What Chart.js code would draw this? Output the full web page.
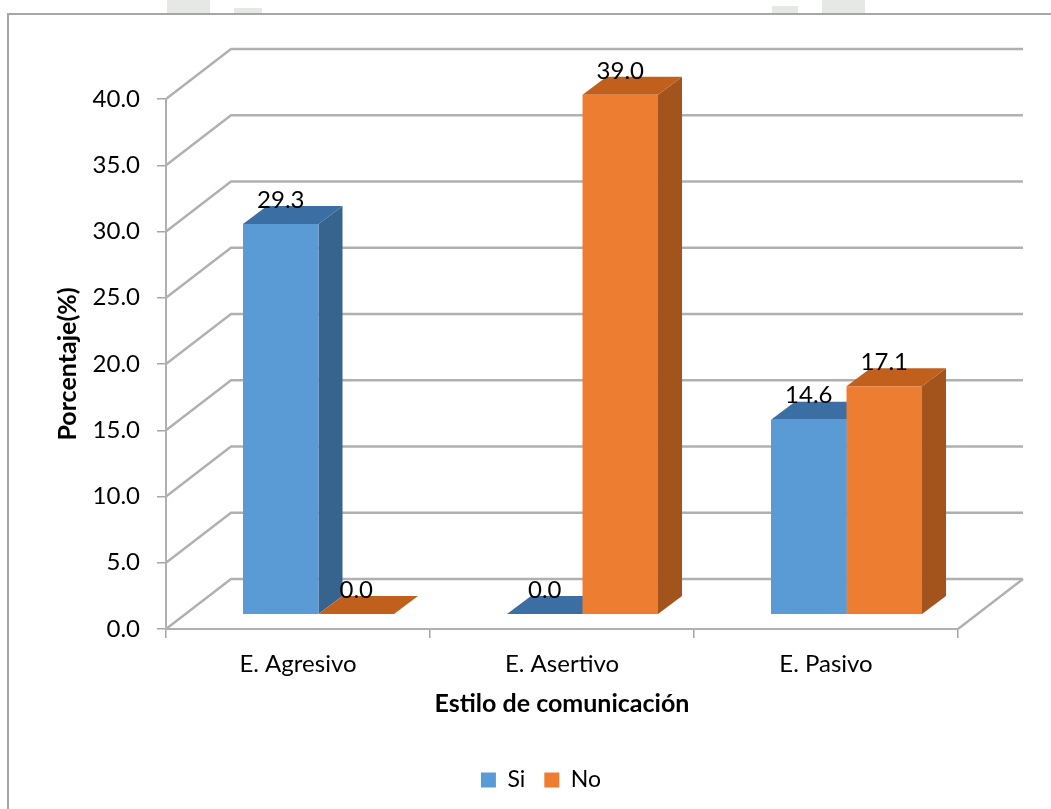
<!DOCTYPE html>
<html lang="es">
<head>
<meta charset="utf-8">
<title>Estilo de comunicación</title>
<script src="https://cdn.jsdelivr.net/npm/chart.js@4"></script>
<style>
    html, body { margin: 0; padding: 0; background: #fff; }
    canvas { display: block; }
</style>
</head>
<body>
<canvas id="grafico" width="1051" height="809"></canvas>
<script>
const categorias = ["E. Agresivo", "E. Asertivo", "E. Pasivo"];
const valoresSi = [29.3, 0.0, 14.6];
const valoresNo = [0.0, 39.0, 17.1];
const ticksPorcentaje = [0, 5, 10, 15, 20, 25, 30, 35, 40];

const fuente = "Lato, Carlito, Calibri, sans-serif";
const gris = "#b0b0b0";
const grisEje = "#a6a6a6";

// profundidad de la pared del fondo y de las barras
const paredDx = 65, paredDy = -50;
const barraDx = 24, barraDy = -18;

const caras = [
    { frente: "#5b9bd5", lado: "#37648f", arriba: "#3b6fa3" },
    { frente: "#ed7d31", lado: "#a3541c", arriba: "#c1601c" }
];

function poligono(ctx, puntos, color) {
    ctx.fillStyle = color;
    ctx.beginPath();
    puntos.forEach((p, i) => i ? ctx.lineTo(p[0], p[1]) : ctx.moveTo(p[0], p[1]));
    ctx.closePath();
    ctx.fill();
}

// marco exterior y restos grises del borde superior
const marco = {
    id: "marco",
    beforeDraw(chart) {
        const ctx = chart.ctx;
        ctx.save();
        ctx.fillStyle = "#e6e8e6";
        ctx.fillRect(167, 0, 43, 13);
        ctx.fillRect(234, 8, 28, 5);
        ctx.fillRect(772, 6, 26, 7);
        ctx.fillRect(822, 0, 43, 13);
        ctx.strokeStyle = grisEje;
        ctx.lineWidth = 2;
        ctx.beginPath();
        ctx.moveTo(8, 809);
        ctx.lineTo(8, 14);
        ctx.lineTo(1051, 14);
        ctx.stroke();
        ctx.restore();
    }
};

// paredes en perspectiva y caras laterales de cada barra
const volumen = {
    id: "volumen",
    beforeDatasetsDraw(chart) {
        const ctx = chart.ctx;
        const { left, right, bottom } = chart.chartArea;
        const y = chart.scales.y;

        ctx.save();
        ctx.strokeStyle = gris;
        ctx.lineWidth = 2.4;
        ctx.lineJoin = "round";
        ticksPorcentaje.forEach(v => {
            const py = y.getPixelForValue(v);
            ctx.beginPath();
            ctx.moveTo(left, py);
            ctx.lineTo(left + paredDx, py + paredDy);
            ctx.lineTo(right + paredDx, py + paredDy);
            ctx.stroke();
        });
        ctx.beginPath();
        ctx.moveTo(right, bottom);
        ctx.lineTo(right + paredDx, bottom + paredDy);
        ctx.stroke();

        categorias.forEach((_, i) => {
            chart.data.datasets.forEach((ds, d) => {
                const barra = chart.getDatasetMeta(d).data[i];
                const izq = barra.x - barra.width / 2;
                const der = barra.x + barra.width / 2;
                if (barra.base - barra.y > 0) {
                    poligono(ctx, [
                        [der, barra.y], [der + barraDx, barra.y + barraDy],
                        [der + barraDx, barra.base + barraDy], [der, barra.base]
                    ], caras[d].lado);
                }
                poligono(ctx, [
                    [izq, barra.y], [izq + barraDx, barra.y + barraDy],
                    [der + barraDx, barra.y + barraDy], [der, barra.y]
                ], caras[d].arriba);
            });
        });
        ctx.restore();
    },
    afterDatasetsDraw(chart) {
        const ctx = chart.ctx;
        ctx.save();
        ctx.fillStyle = "#000";
        ctx.font = "24px " + fuente;
        ctx.textAlign = "center";
        ctx.textBaseline = "middle";
        chart.data.datasets.forEach((ds, d) => {
            chart.getDatasetMeta(d).data.forEach((barra, i) => {
                ctx.fillText(ds.data[i].y.toFixed(1), barra.x, barra.y - 24);
            });
        });
        ctx.restore();
    },
    afterLayout(chart) {
        // la leyenda queda centrada bajo el gráfico completo, no bajo el área de barras
        chart.legend.left += 62;
        chart.legend.right += 62;
    }
};

const puntos = valores => valores.map((v, i) => ({ x: i, y: v }));

new Chart(document.getElementById("grafico"), {
    type: "bar",
    data: {
        labels: categorias,
        datasets: [
            {
                label: "Si",
                data: puntos(valoresSi),
                backgroundColor: caras[0].frente,
                xAxisID: "xBarras",
                yAxisID: "yBarras",
                clip: false
            },
            {
                label: "No",
                data: puntos(valoresNo),
                backgroundColor: caras[1].frente,
                xAxisID: "xBarras",
                yAxisID: "yBarras",
                clip: false
            }
        ]
    },
    plugins: [marco, volumen],
    options: {
        responsive: false,
        animation: false,
        barPercentage: 1,
        categoryPercentage: 0.572,
        layout: { padding: { top: 99, right: 93, bottom: 7.5, left: 0 } },
        plugins: {
            tooltip: { enabled: false },
            legend: {
                position: "bottom",
                labels: {
                    boxWidth: 15,
                    boxHeight: 15,
                    padding: 19,
                    color: "#000",
                    font: { family: fuente, size: 23 }
                }
            }
        },
        scales: {
            x: {
                type: "category",
                labels: categorias,
                offset: true,
                grid: {
                    offset: true,
                    drawOnChartArea: false,
                    color: grisEje,
                    lineWidth: 1.5,
                    tickLength: 9
                },
                border: { color: gris, width: 2 },
                ticks: { color: "#000", padding: 12, font: { family: fuente, size: 24 }, maxRotation: 0 },
                title: {
                    display: true,
                    text: "Estilo de comunicación",
                    color: "#000",
                    padding: { top: 0, bottom: 30.5 },
                    font: { family: fuente, size: 25, weight: "bold" }
                },
                afterFit(scale) { scale.height = 120.5; }
            },
            y: {
                type: "linear",
                min: 0,
                max: 40,
                grid: {
                    drawOnChartArea: false,
                    color: grisEje,
                    lineWidth: 1.5,
                    tickLength: 9
                },
                border: { color: gris, width: 2 },
                ticks: {
                    stepSize: 5,
                    color: "#000",
                    padding: 17,
                    font: { family: fuente, size: 24 },
                    callback: v => v.toFixed(1)
                },
                title: {
                    display: true,
                    text: "Porcentaje(%)",
                    color: "#000",
                    padding: { top: 53, bottom: 0 },
                    font: { family: fuente, size: 25, weight: "bold" }
                },
                afterFit(scale) { scale.width = 166; }
            },
            // ejes ocultos: el plano de las barras está desplazado respecto al frente
            xBarras: {
                type: "linear",
                display: false,
                offset: false,
                min: -0.5777,
                max: 2.4223,
                afterBuildTicks(scale) {
                    scale.ticks = categorias.map((_, i) => ({ value: i }));
                }
            },
            yBarras: {
                type: "linear",
                display: false,
                min: -1.131,
                max: 38.69
            }
        }
    }
});
</script>
</body>
</html>
